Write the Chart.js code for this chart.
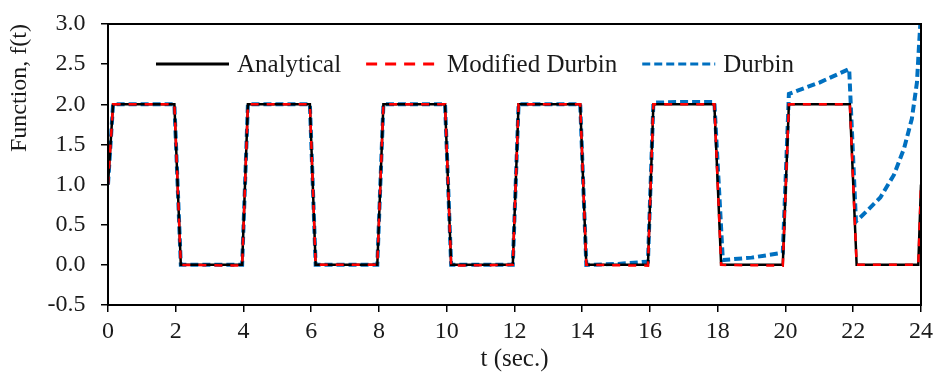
<!DOCTYPE html>
<html>
<head>
<meta charset="utf-8">
<script src="https://cdn.jsdelivr.net/npm/chart.js@4.4.1/dist/chart.umd.min.js"></script>
<style>
  html, body { margin: 0; padding: 0; background: #fff; }
  #wrap { width: 933px; height: 374px; }
</style>
</head>
<body>
<div id="wrap"><canvas id="fchart"></canvas></div>
<script>
// data

const tAnalytical = [0, 0.15, 1.96, 2.15, 3.96, 4.13, 5.96, 6.13, 7.95, 8.13, 9.95, 10.13, 11.95, 12.12,
    13.94, 14.12, 15.94, 16.1, 17.9, 18.1, 19.92, 20.1, 21.9, 22.1, 23.92, 24];
const fAnalytical = [1.0, 2, 2, 0, 0, 2, 2, 0, 0, 2, 2, 0, 0, 2,
    2, 0, 0, 2, 2, 0, 0, 2, 2, 0, 0, 1.0];

const tModified = [0, 0.15, 1.96, 2.15, 3.96, 4.13, 5.96, 6.13, 7.95, 8.13, 9.95, 10.13, 11.95, 12.12,
    13.94, 14.12, 15.94, 16.1, 17.9, 18.1, 19.92, 20.1, 21.9, 22.1, 23.92, 24];
const fModified = [1.0, 2, 2, 0, -0.01, 2, 2, 0, 0, 2, 2, -0.01, 0, 2,
    2, 0, -0.01, 2, 2, 0, -0.01, 2, 2, 0, 0, 1.0];

const tDurbin = [0, 0.15, 1.96, 2.15, 3.96, 4.13, 5.96, 6.13, 7.95, 8.13, 9.95, 10.13, 11.95, 12.12,
    13.94, 14.12, 15.0, 15.94, 16.1, 17.0, 17.9, 18.15, 19.0, 19.92, 20.1, 21.0, 21.88,
    22.08, 22.4, 22.8, 23.2, 23.5, 23.73, 23.88, 23.94, 23.98];
const fDurbin = [1.0, 2, 2, 0, 0, 2, 2, 0, 0, 2, 2, 0, 0, 2,
    2, 0, 0.01, 0.04, 2.02, 2.03, 2.03, 0.06, 0.09, 0.15, 2.13, 2.27, 2.44,
    0.54, 0.67, 0.84, 1.12, 1.45, 1.82, 2.27, 2.72, 3.0];

const xTicks = [0, 2, 4, 6, 8, 10, 12, 14, 16, 18, 20, 22, 24];
const yTicks = [-0.5, 0.0, 0.5, 1.0, 1.5, 2.0, 2.5, 3.0];

const FONT = "'Liberation Serif', 'Times New Roman', serif";
const TEXT = "#1a1a1a";

function pts(ts, fs) {
    return ts.map((t, i) => ({ x: t, y: fs[i] }));
}

// frame around the plot + legend inside the plot
const framePlugin = {
    id: "frame",
    afterDatasetsDraw(chart) {
        const { ctx, chartArea: a } = chart;
        ctx.save();
        ctx.strokeStyle = "#000";
        ctx.lineWidth = 2;
        ctx.strokeRect(a.left, a.top, a.right - a.left, a.bottom - a.top);
        ctx.restore();
    },
    afterDraw(chart) {
        const { ctx, chartArea: a } = chart;
        const sets = chart.data.datasets;
        const y = a.top + 40;
        let x = a.left + 48;
        ctx.save();
        ctx.font = "25px " + FONT;
        ctx.textBaseline = "middle";
        ctx.fillStyle = TEXT;
        sets.forEach(ds => {
            ctx.strokeStyle = ds.borderColor;
            ctx.lineWidth = 3;
            ctx.setLineDash(ds.legendDash);
            ctx.beginPath();
            ctx.moveTo(x, y);
            ctx.lineTo(x + 73, y);
            ctx.stroke();
            ctx.setLineDash([]);
            x += 81;
            ctx.fillText(ds.label, x, y + 1);
            x += ctx.measureText(ds.label).width + 25;
        });
        ctx.restore();
    },
};

const ctx = document.getElementById("fchart");

new Chart(ctx, {
    type: "line",
    data: {
        datasets: [
            {
                label: "Analytical",
                data: pts(tAnalytical, fAnalytical),
                borderColor: "#000000",
                borderWidth: 2.5,
                legendDash: [],
                order: 2,
            },
            {
                label: "Modified Durbin",
                data: pts(tModified, fModified),
                borderColor: "#ff0000",
                borderWidth: 2.5,
                borderDash: [8, 8],
                legendDash: [11, 8],
                order: 1,
            },
            {
                label: "Durbin",
                data: pts(tDurbin, fDurbin),
                borderColor: "#0070c0",
                borderWidth: 4,
                borderDash: [8, 4],
                legendDash: [8, 4],
                order: 3,
            },
        ],
    },
    options: {
        responsive: true,
        maintainAspectRatio: false,
        animation: false,
        elements: {
            point: { radius: 0 },
            line: { tension: 0, fill: false },
        },
        layout: {
            padding: { left: 8, right: 0, top: 2, bottom: 2 },
        },
        plugins: {
            legend: { display: false },
            tooltip: { enabled: false },
        },
        scales: {
            x: {
                type: "linear",
                min: 0,
                max: 24,
                afterBuildTicks: axis => { axis.ticks = xTicks.map(v => ({ value: v })); },
                afterFit: axis => { axis.paddingRight = 12; axis.paddingLeft = 0; },
                grid: {
                    drawOnChartArea: false,
                    drawTicks: true,
                    tickLength: 7,
                    color: "#000",
                    lineWidth: 1.5,
                },
                border: { color: "#000", width: 2 },
                ticks: {
                    color: TEXT,
                    font: { family: FONT, size: 24, lineHeight: 1 },
                    padding: 8,
                    maxRotation: 0,
                },
                title: {
                    display: true,
                    text: "t (sec.)",
                    color: TEXT,
                    font: { family: FONT, size: 25, lineHeight: 1 },
                    padding: { top: -5, bottom: 0 },
                },
            },
            y: {
                min: -0.5,
                max: 3.0,
                afterBuildTicks: axis => { axis.ticks = yTicks.map(v => ({ value: v })); },
                afterFit: axis => { axis.paddingTop = 24; axis.paddingBottom = 0; },
                grid: {
                    drawOnChartArea: false,
                    drawTicks: true,
                    tickLength: 7,
                    color: "#000",
                    lineWidth: 1.5,
                },
                border: { color: "#000", width: 2 },
                ticks: {
                    color: TEXT,
                    font: { family: FONT, size: 24, lineHeight: 1 },
                    padding: 15.5,
                    callback: v => Number(v).toFixed(1),
                },
                title: {
                    display: true,
                    text: "Function, f(t)",
                    align: "end",
                    color: TEXT,
                    font: { family: FONT, size: 24, lineHeight: 1 },
                    padding: { top: 0, bottom: 0 },
                },
            },
        },
    },
    plugins: [framePlugin],
});
</script>
</body>
</html>
